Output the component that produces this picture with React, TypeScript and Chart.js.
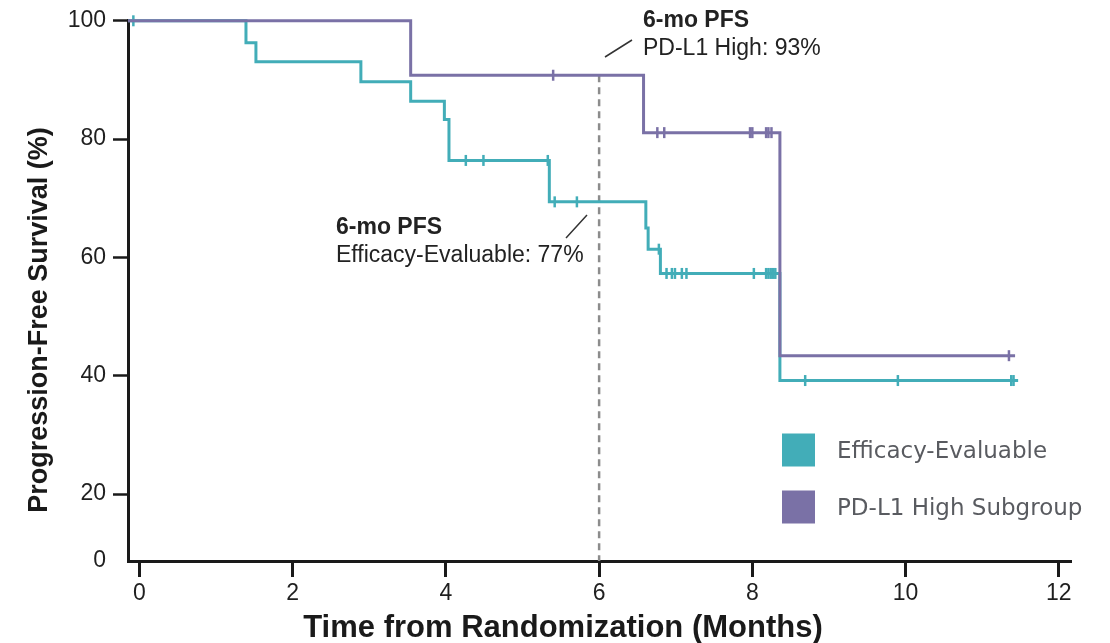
import React, { useEffect, useRef } from 'react';
import { Chart, registerables } from 'chart.js';

Chart.register(...registerables);

// ---- Data ----
const xTickValues = [0, 2, 4, 6, 8, 10, 12];
const yTickLabels = [0, 20, 40, 60, 80, 100];
const Y_BREAK = 8.7; // bottom of the (broken) y axis, labelled "0"
const X_MIN = -0.15;
const X_MAX = 12.16;

// Efficacy-Evaluable: step times and survival (%) after each step
const effTimes = [-0.15, 1.39, 1.52, 2.89, 3.54, 3.98, 4.04, 5.35, 6.61, 6.64, 6.8, 8.36, 11.47];
const effSurv = [100, 96.3, 93.1, 89.7, 86.4, 83.3, 76.4, 69.4, 65.0, 61.4, 57.3, 39.2, 39.2];
const effCensor = [-0.08, 4.26, 4.49, 5.33, 5.42, 5.71, 6.78, 6.88, 6.95, 6.99, 7.08, 7.14, 8.02, 8.18, 8.21, 8.24, 8.27, 8.3, 8.69, 9.9, 11.38, 11.41];

// PD-L1 High Subgroup
const pdTimes = [-0.15, 3.54, 6.58, 8.36, 11.43];
const pdSurv = [100, 90.8, 81.1, 43.4, 43.4];
const pdCensor = [5.4, 6.76, 6.85, 7.97, 8.0, 8.18, 8.21, 8.25, 11.35];

const landmarkMonth = 6;
const seriesNames = ['Efficacy-Evaluable', 'PD-L1 High Subgroup'];
const seriesColors = ['#42adb8', '#7a71a6'];
const annotationTitle = '6-mo PFS';
const annotationPD = 'PD-L1 High: 93%';
const annotationEff = 'Efficacy-Evaluable: 77%';
const xTitle = 'Time from Randomization (Months)';
const yTitle = 'Progression-Free Survival (%)';

const survivalAt = (times: number[], surv: number[], t: number) => {
  let s = surv[0];
  for (let i = 0; i < times.length; i++) if (times[i] <= t) s = surv[i];
  return s;
};

const FONT = "'Liberation Sans', Arial, sans-serif";
const INK = '#1a1a1a';

const overlayPlugin = {
  id: 'overlay',
  afterDraw(chart: any) {
    const ctx = chart.ctx;
    ctx.save();
    // axis titles
    ctx.fillStyle = INK;
    ctx.font = `bold 31px ${FONT}`;
    ctx.textAlign = 'center';
    ctx.textBaseline = 'alphabetic';
    ctx.fillText(xTitle, 563, 637);
    ctx.save();
    ctx.translate(47, 320);
    ctx.rotate(-Math.PI / 2);
    ctx.font = `bold 27px ${FONT}`;
    ctx.fillText(yTitle, 0, 0);
    ctx.restore();

    // annotations
    ctx.textAlign = 'left';
    ctx.textBaseline = 'middle';
    ctx.fillStyle = '#222';
    ctx.font = `bold 23px ${FONT}`;
    ctx.fillText(annotationTitle, 643, 21);
    ctx.fillText(annotationTitle, 336, 228);
    ctx.font = `23px ${FONT}`;
    ctx.fillText(annotationPD, 643, 49);
    ctx.fillText(annotationEff, 336, 256);
    ctx.strokeStyle = '#333';
    ctx.lineWidth = 1.5;
    ctx.beginPath();
    ctx.moveTo(605, 57);
    ctx.lineTo(632, 40);
    ctx.moveTo(566, 238);
    ctx.lineTo(587, 215);
    ctx.stroke();

    // legend
    ctx.font = `23px 'DejaVu Sans', sans-serif`;
    const rows = [450, 507];
    seriesNames.forEach((name, i) => {
      ctx.fillStyle = seriesColors[i];
      ctx.fillRect(782, rows[i] - 16.5, 33, 33);
      ctx.fillStyle = '#595b60';
      ctx.fillText(name, 837, rows[i] + 2);
    });
    ctx.restore();
  },
};

export default function App() {
  const ref = useRef<HTMLCanvasElement | null>(null);
  useEffect(() => {
    if (!ref.current) return;
    const step = (times: number[], surv: number[]) => times.map((t, i) => ({ x: t, y: surv[i] }));
    const cens = (c: number[], times: number[], surv: number[]) => c.map((t) => ({ x: t, y: survivalAt(times, surv, t) }));
    const censorStyle = (color: string) => ({
      showLine: false,
      clip: false,
      pointStyle: 'line',
      pointRotation: 90,
      pointRadius: 5.5,
      pointHoverRadius: 5.5,
      pointBorderWidth: 2.5,
      pointBorderColor: color,
      pointBackgroundColor: color,
      borderColor: color,
    });
    const chart = new Chart(ref.current, {
      type: 'line',
      data: {
        datasets: [
          { label: seriesNames[1] + ' censored', data: cens(pdCensor, pdTimes, pdSurv), ...censorStyle(seriesColors[1]), order: 0 },
          { label: seriesNames[1], data: step(pdTimes, pdSurv), borderColor: seriesColors[1], borderWidth: 3, stepped: true, pointRadius: 0, clip: false, order: 1 },
          { label: seriesNames[0] + ' censored', data: cens(effCensor, effTimes, effSurv), ...censorStyle(seriesColors[0]), order: 2 },
          { label: seriesNames[0], data: step(effTimes, effSurv), borderColor: seriesColors[0], borderWidth: 3, stepped: true, pointRadius: 0, clip: false, order: 3 },
          {
            label: '6-month landmark',
            data: [
              { x: landmarkMonth, y: survivalAt(pdTimes, pdSurv, landmarkMonth) },
              { x: landmarkMonth, y: Y_BREAK },
            ],
            borderColor: '#8c8c8c',
            borderWidth: 2.5,
            borderDash: [7, 5],
            pointRadius: 0,
            order: 4,
          },
        ] as any,
      },
      options: {
        animation: false,
        responsive: true,
        maintainAspectRatio: false,
        devicePixelRatio: 1,
        events: [],
        layout: { padding: { left: 0, right: 39, top: 19, bottom: 0 } },
        plugins: { legend: { display: false }, tooltip: { enabled: false }, title: { display: false } },
        scales: {
          x: {
            type: 'linear',
            min: X_MIN,
            max: X_MAX,
            afterFit: (s: any) => { s.height = 82; },
            afterBuildTicks: (s: any) => { s.ticks = xTickValues.map((v) => ({ value: v })); },
            border: { display: true, color: INK, width: 3 },
            grid: { display: true, drawOnChartArea: false, drawTicks: true, tickLength: 16, tickWidth: 3, tickColor: INK },
            ticks: { color: '#1f1f1f', font: { family: FONT, size: 23 }, padding: 3, maxRotation: 0, autoSkip: false },
          },
          y: {
            type: 'linear',
            min: Y_BREAK,
            max: 100,
            afterFit: (s: any) => { s.width = 128; },
            afterBuildTicks: (s: any) => { s.ticks = yTickLabels.map((v) => ({ value: v === 0 ? Y_BREAK : v })); },
            border: { display: true, color: INK, width: 3 },
            grid: {
              display: true,
              drawOnChartArea: false,
              drawTicks: true,
              tickLength: 15,
              tickWidth: 2.5,
              tickColor: (c: any) => (c.tick && c.tick.value === Y_BREAK ? 'rgba(0,0,0,0)' : INK),
            },
            ticks: {
              color: '#1f1f1f',
              font: { family: FONT, size: 23 },
              padding: 7,
              autoSkip: false,
              callback: (v: any) => (v === Y_BREAK ? '0' : String(v)),
            },
          },
        },
      } as any,
      plugins: [overlayPlugin],
    });
    return () => chart.destroy();
  }, []);
  return (
    <div style={{ position: 'absolute', left: 0, top: 0, width: 1110, height: 643, background: '#fff' }}>
      <canvas ref={ref} />
    </div>
  );
}
